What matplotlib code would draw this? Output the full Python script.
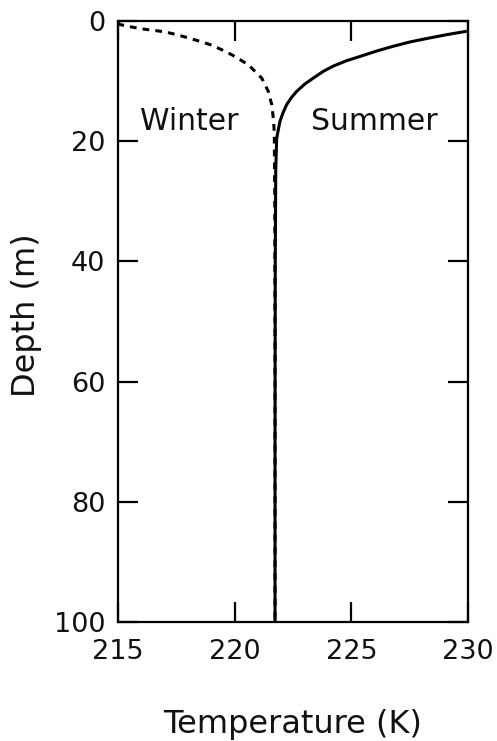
import matplotlib
matplotlib.use("Agg")
import matplotlib.pyplot as plt

# Summer profile (temperature K, depth m)
summer_temp = [229.95, 229.09, 228.2, 227.51, 226.8, 226.09, 225.37, 224.8,
               224.23, 223.8, 223.37, 223.01, 222.66, 222.44, 222.23, 222.08,
               221.94, 221.87, 221.8, 221.76, 221.74, 221.73, 221.73]
summer_depth = [1.7, 2.27, 2.94, 3.49, 4.2, 4.99, 5.9, 6.6,
                7.5, 8.37, 9.5, 10.48, 11.7, 12.7, 13.9, 15.2,
                16.7, 18.1, 19.5, 25.0, 40.0, 70.0, 100.0]

# Winter profile
winter_temp = [215.0, 215.09, 215.51, 216.0, 216.51, 217.0, 217.51, 218.0,
               218.51, 219.0, 219.44, 219.87, 220.23, 220.59, 220.87, 221.16,
               221.3, 221.44, 221.51, 221.59, 221.63, 221.67, 221.69, 221.70,
               221.72, 221.73, 221.73]
winter_depth = [0.3, 0.6, 0.94, 1.3, 1.55, 1.8, 2.27, 2.8,
                3.38, 4.0, 4.77, 5.6, 6.43, 7.3, 8.37, 9.5,
                10.6, 11.7, 12.8, 13.9, 15.3, 16.7, 18.1, 19.5,
                30.0, 60.0, 100.0]

x_ticks = [215, 220, 225, 230]
y_ticks = [0, 20, 40, 60, 80, 100]

W, H = 497, 741
fig = plt.figure(figsize=(W / 100, H / 100), dpi=100)
left, right, top, bottom = 118, 468, 21, 622
ax = fig.add_axes([left / W, 1 - bottom / H, (right - left) / W, (bottom - top) / H])

ax.plot(summer_temp, summer_depth, color="black", lw=2.2, solid_capstyle="butt",
        solid_joinstyle="round")
ax.plot(winter_temp, winter_depth, color="black", lw=2.2, linestyle=(0, (2.2, 2.0)),
        dash_capstyle="butt", dash_joinstyle="round")

ax.set_xlim(215, 230)
ax.set_ylim(100, 0)
ax.set_xticks(x_ticks)
ax.set_yticks(y_ticks)
ax.set_xticklabels([str(v) for v in x_ticks])
ax.set_yticklabels([str(v) for v in y_ticks])

for s in ax.spines.values():
    s.set_linewidth(1.6)

ax.tick_params(axis="both", direction="in", length=14.5, width=1.6,
               top=True, right=True, labelsize=19.5, labelcolor="#111111")
ax.tick_params(axis="x", pad=12)
ax.tick_params(axis="y", pad=9)

ax.text(215.94, 18.1, "Winter", fontsize=21.5, ha="left", va="baseline", color="#111111")
ax.text(223.27, 18.1, "Summer", fontsize=21.5, ha="left", va="baseline", color="#111111")

fig.text(293 / W, 1 - 724 / H, "Temperature (K)", fontsize=23, ha="center", va="center",
         color="#111111")
fig.text(27 / W, 1 - 315 / H, "Depth (m)", fontsize=23, ha="center", va="center",
         rotation=90, color="#111111")

fig.savefig("out.png", dpi=100, facecolor="white")
